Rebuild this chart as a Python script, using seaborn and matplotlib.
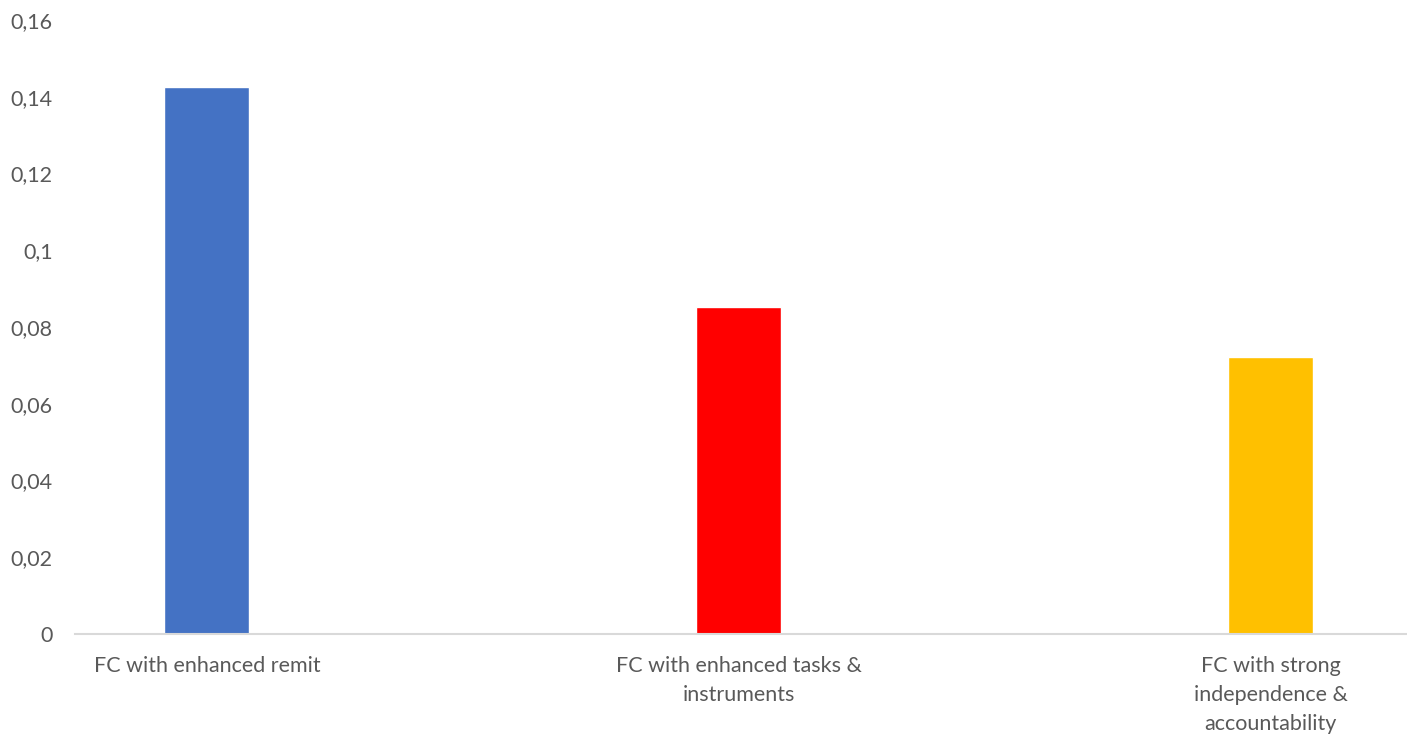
import matplotlib
matplotlib.use("Agg")
import matplotlib.pyplot as plt
import seaborn as sns
import pandas as pd
from matplotlib.ticker import FuncFormatter, MultipleLocator

categories = ["FC with enhanced remit",
              "FC with enhanced tasks &\ninstruments",
              "FC with strong\nindependence &\naccountability"]
values = [0.1425, 0.0852, 0.0722]
colors = ["#4472C4", "#FF0000", "#FFC000"]

sns.set_theme(style="white")
plt.rcParams['font.family'] = ['Lato', 'DejaVu Sans']

df = pd.DataFrame({"cat": categories, "val": values})

fig = plt.figure(figsize=(14.07, 7.35), dpi=100)
ax = fig.add_axes([75/1407, 101/735, 1 - 75/1407, (634-20)/735])
sns.barplot(data=df, x="cat", y="val", hue="cat", palette=colors,
            width=0.16, legend=False, ax=ax, saturation=1)

ax.set_ylim(0, 0.16)
ax.set_xlim(-0.248, 2.256)
ax.yaxis.set_major_locator(MultipleLocator(0.02))
ax.yaxis.set_major_formatter(FuncFormatter(lambda v, p: ("%g" % round(v, 4)).replace(".", ",")))
ax.set_xlabel("")
ax.set_ylabel("")
for s in ["top", "right", "left"]:
    ax.spines[s].set_visible(False)
ax.spines["bottom"].set_color("#D9D9D9")
ax.spines["bottom"].set_linewidth(1.5)
ax.tick_params(axis="y", length=0, pad=16, labelsize=15.5, labelcolor="#595959")
ax.tick_params(axis="x", length=0, pad=16, labelsize=15.5, labelcolor="#595959")
ax.set_xticks(range(len(categories)), labels=categories, linespacing=1.55, ha="center")

fig.savefig("out.png", dpi=100)
